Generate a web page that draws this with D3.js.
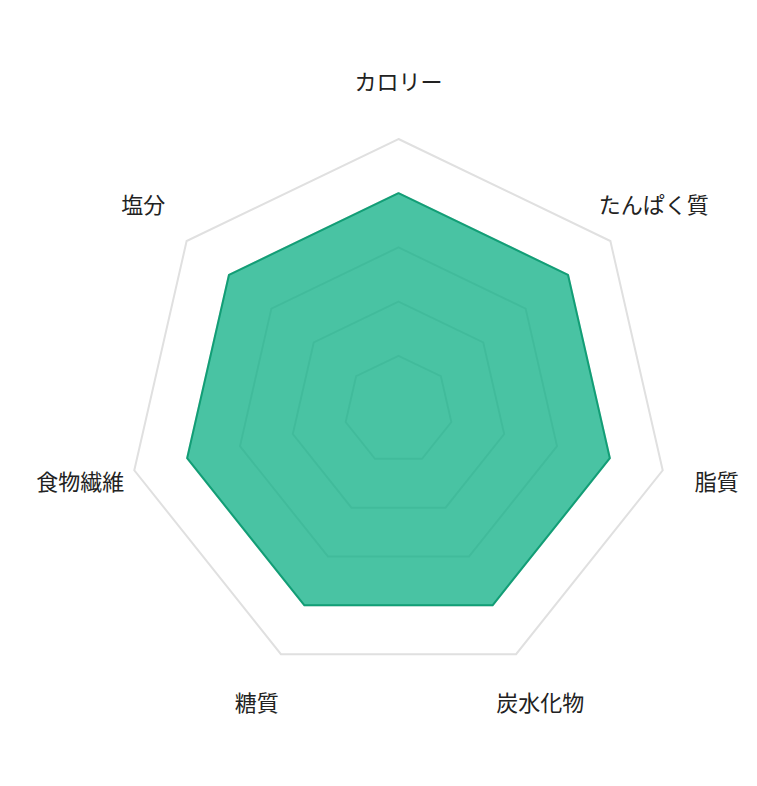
<!DOCTYPE html>
<html><head><meta charset="utf-8">
<script src="https://cdn.jsdelivr.net/npm/d3@7"></script>
<style>html,body{margin:0;padding:0;background:#fff;}svg{display:block;}</style>
</head><body>
<svg id="chart" width="757" height="786"></svg>
<script>
const categories = ["カロリー", "たんぱく質", "脂質", "炭水化物", "糖質", "食物繊維", "塩分"];
const values = [80, 80, 80, 80, 80, 80, 80];
const levels = [20, 40, 60, 80, 100];
const maxValue = 100;

const svg = d3.select("#chart");
const cx = 398.5, cy = 410, R = 271;
const r = d3.scaleLinear().domain([0, maxValue]).range([0, R]);
const angle = d3.scalePoint().domain(categories).range([0, 2 * Math.PI * (categories.length - 1) / categories.length]);

const g = svg.append("g").attr("transform", `translate(${cx},${cy})`);
const radial = d3.lineRadial().angle(d => angle(d.c)).radius(d => r(d.v)).curve(d3.curveLinearClosed);

g.selectAll("path.grid").data(levels).join("path")
  .attr("class", "grid")
  .attr("d", lv => radial(categories.map(c => ({c, v: lv}))))
  .attr("fill", "none")
  .attr("stroke", "#e0e0e0")
  .attr("stroke-width", 2);

g.append("path")
  .datum(categories.map((c, i) => ({c, v: values[i]})))
  .attr("d", radial)
  .attr("fill", "rgb(12,175,132)")
  .attr("fill-opacity", 0.75)
  .attr("stroke", "#129e76")
  .attr("stroke-width", 2)
  .attr("stroke-linejoin", "round");

const labelR = r(maxValue) * 1.205;
g.selectAll("text.lab").data(categories).join("text")
  .attr("class", "lab")
  .attr("x", c => labelR * Math.sin(angle(c)))
  .attr("y", c => -labelR * Math.cos(angle(c)) - 3)
  .attr("text-anchor", "middle")
  .attr("dominant-baseline", "central")
  .attr("font-family", "'Noto Sans CJK JP', 'Noto Sans', sans-serif")
  .attr("font-size", 22)
  .attr("fill", "#222")
  .text(c => c);
</script>
</body></html>
